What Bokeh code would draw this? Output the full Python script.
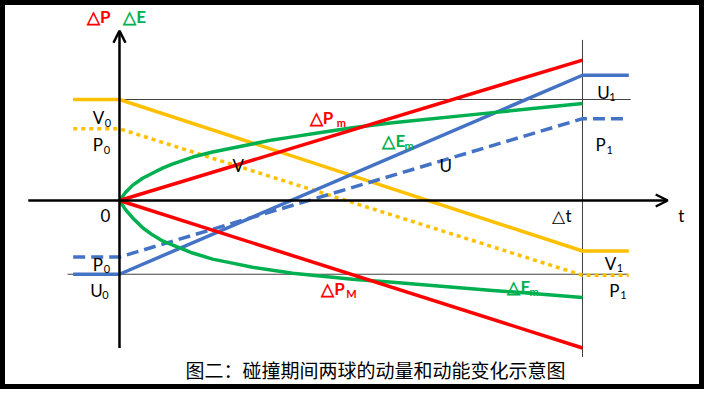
from bokeh.plotting import figure
from bokeh.models import ColumnDataSource, Arrow, OpenHead
from bokeh.core.properties import value
from bokeh.embed import file_html
from bokeh.resources import INLINE

RED = "#FF0000"
GREEN = "#00B050"
BLUE = "#4472C4"
YELLOW = "#FFC000"
FONT = "Lato"

# time axis: 0 = start of the collision, 1 = end (Δt)
t_steps = [-0.10, 0.0, 1.0, 1.10]

# ball m (yellow): velocity V and momentum P
V_vals = [1.00, 1.00, -0.50, -0.50]
Pm_vals = [0.71, 0.71, -0.74, -0.74]
# ball M (blue): velocity U and momentum P
U_vals = [-0.73, -0.73, 1.24, 1.24]
PM_vals = [-0.56, -0.56, 0.81, 0.81]

# momentum changes (red)
dP_t = [0.0, 1.0]
dP_m = [0.0, 1.39]
dP_M = [0.0, -1.46]

# kinetic energy changes (green)
dEm_t = [0.0, 0.013, 0.028, 0.050, 0.071, 0.093, 0.114, 0.158, 0.201, 0.244, 0.287,
         0.330, 0.374, 0.417, 0.503, 0.590, 0.806, 1.0]
dEm = [0.0, 0.08, 0.15, 0.22, 0.27, 0.32, 0.36, 0.43, 0.48, 0.52, 0.56,
       0.60, 0.63, 0.66, 0.72, 0.77, 0.87, 0.96]
dEM_t = [0.0, 0.013, 0.028, 0.050, 0.071, 0.093, 0.114, 0.158, 0.201, 0.244, 0.287,
         0.374, 0.503, 0.590, 0.806, 1.0]
dEM = [0.0, -0.09, -0.17, -0.27, -0.34, -0.40, -0.44, -0.52, -0.58, -0.62, -0.66,
       -0.72, -0.78, -0.81, -0.89, -0.96]

# reference levels
level_top = 1.00
level_bottom = -0.73

caption = "图二：碰撞期间两球的动量和动能变化示意图"

# labels: text, t, v, colour, size, style, subscript, subscript offset
labels = [
    ("△P", -0.070, 1.82, RED, "17px", "bold", "", 0),
    ("△E", 0.008, 1.82, GREEN, "17px", "bold", "", 0),
    ("V", -0.058, 0.82, "black", "17px", "normal", "0", 12),
    ("P", -0.058, 0.55, "black", "17px", "normal", "0", 11),
    ("V", 0.244, 0.35, "black", "17px", "normal", "", 0),
    ("U", 0.691, 0.35, "black", "17px", "normal", "", 0),
    ("U", 1.032, 1.07, "black", "17px", "normal", "1", 12),
    ("P", 1.028, 0.55, "black", "17px", "normal", "1", 11),
    ("0", -0.041, -0.15, "black", "17px", "normal", "", 0),
    ("△t", 0.935, -0.15, "black", "17px", "normal", "", 0),
    ("t", 1.207, -0.15, "black", "17px", "normal", "", 0),
    ("P", -0.058, -0.63, "black", "17px", "normal", "0", 11),
    ("U", -0.063, -0.89, "black", "17px", "normal", "0", 12),
    ("V", 1.048, -0.62, "black", "17px", "normal", "1", 12),
    ("P", 1.058, -0.89, "black", "17px", "normal", "1", 11),
    ("△P", 0.411, 0.82, RED, "17px", "bold", "m", 27),
    ("△E", 0.568, 0.59, GREEN, "17px", "bold", "m", 22),
    ("△P", 0.436, -0.87, RED, "17px", "bold", "M", 25),
    ("△E", 0.838, -0.85, GREEN, "17px", "bold", "m", 22),
]

p = figure(width=704, height=389, x_range=(-0.257, 1.2635), y_range=(-1.871, 1.980),
           x_axis_type=None, y_axis_type=None, min_border=0,
           output_backend="svg", toolbar_location=None)
p.grid.visible = False
p.outline_line_color = "black"
p.outline_line_width = 9
p.background_fill_color = "white"

# thin reference lines
p.line([-0.10, 1.104], [level_top, level_top], line_color="#404040", line_width=1)
p.line([-0.112, 1.097], [level_bottom, level_bottom], line_color="#404040", line_width=1)
p.line([1.0, 1.0], [-1.55, 1.59], line_color="#404040", line_width=1)

# axes with arrows
p.add_layout(Arrow(end=OpenHead(size=12, line_width=2.5), x_start=-0.197, y_start=0,
                   x_end=1.184, y_end=0, line_width=2.5, line_color="black"))
p.add_layout(Arrow(end=OpenHead(size=12, line_width=2.5), x_start=0, y_start=-1.46,
                   x_end=0, y_end=1.68, line_width=2.5, line_color="black"))

lw = 3.5
p.line(t_steps, V_vals, line_color=YELLOW, line_width=lw)
p.line(t_steps, Pm_vals, line_color=YELLOW, line_width=lw, line_dash="4 4")
p.line(t_steps, U_vals, line_color=BLUE, line_width=lw)
p.line(t_steps, PM_vals, line_color=BLUE, line_width=lw, line_dash="12 6")
p.line(dEm_t, dEm, line_color=GREEN, line_width=lw, line_join="round")
p.line(dEM_t, dEM, line_color=GREEN, line_width=lw, line_join="round")
p.line(dP_t, dP_m, line_color=RED, line_width=lw)
p.line(dP_t, dP_M, line_color=RED, line_width=lw)

main = ColumnDataSource(dict(
    x=[l[1] for l in labels], y=[l[2] for l in labels], text=[l[0] for l in labels],
    color=[l[3] for l in labels], size=[l[4] for l in labels], style=[l[5] for l in labels]))
p.text(x="x", y="y", text="text", source=main, text_color="color", text_font_size="size",
       text_font_style="style", text_font=value(FONT), text_align="left", text_baseline="middle")

subs = [l for l in labels if l[6]]
sub_src = ColumnDataSource(dict(
    x=[l[1] for l in subs], y=[l[2] for l in subs], text=[l[6] for l in subs],
    color=[l[3] for l in subs], style=[l[5] for l in subs], dx=[l[7] for l in subs]))
p.text(x="x", y="y", text="text", source=sub_src, text_color="color", text_font_size="11px",
       text_font_style="style", text_font=value(FONT), text_align="left", text_baseline="middle",
       x_offset="dx", y_offset=5)

p.text(x=[0.553], y=[-1.67], text=[caption], text_color="black", text_font_size="19px",
       text_font=value("Noto Sans CJK SC"), text_align="center", text_baseline="middle")

open("out.html", "w").write(file_html(p, INLINE))
